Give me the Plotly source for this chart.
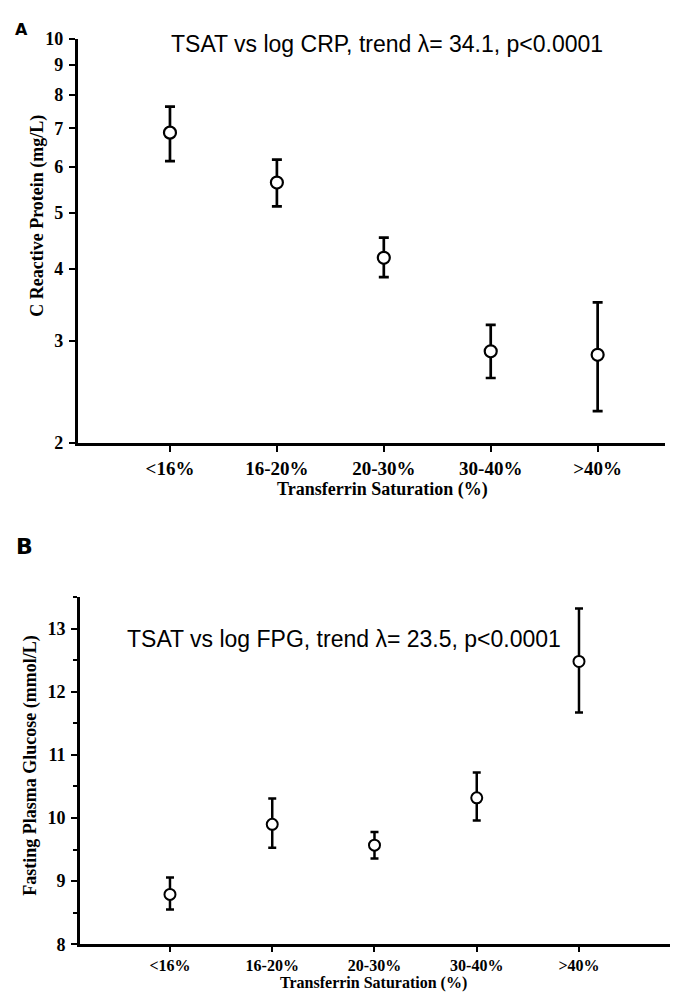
import plotly.graph_objects as go

W, H = 676, 1004

categories = ["<16%", "16-20%", "20-30%", "30-40%", ">40%"]

crp_mean = [6.88, 5.64, 4.18, 2.88, 2.84]
crp_upper = [7.63, 6.18, 4.53, 3.20, 3.50]
crp_lower = [6.14, 5.13, 3.87, 2.59, 2.27]

fpg_mean = [8.79, 9.90, 9.57, 10.32, 12.48]
fpg_upper = [9.06, 10.31, 9.78, 10.72, 13.32]
fpg_lower = [8.55, 9.53, 9.36, 9.96, 11.67]

crp_ticks = [2, 3, 4, 5, 6, 7, 8, 9, 10]
fpg_ticks = [8, 9, 10, 11, 12, 13]
fpg_minor = [8.5, 9.5, 10.5, 11.5, 12.5, 13.5]

title_a = "TSAT vs log CRP, trend \u03bb= 34.1, p<0.0001"
title_b = "TSAT vs log FPG, trend \u03bb= 23.5, p<0.0001"
ytitle_a = "C Reactive Protein (mg/L)"
ytitle_b = "Fasting Plasma Glucose (mmol/L)"
xtitle = "Transferrin Saturation (%)"


def px(x):
    return x / W


def py(y):
    return 1 - y / H


SERIF = "Liberation Serif"
SANS = "Liberation Sans"

fig = go.Figure()

fig.add_trace(go.Scatter(
    x=categories, y=crp_mean, mode="markers",
    marker=dict(symbol="circle", size=12, color="white",
                line=dict(color="black", width=2.2)),
    error_y=dict(type="data", symmetric=False,
                 array=[u - m for u, m in zip(crp_upper, crp_mean)],
                 arrayminus=[m - l for m, l in zip(crp_mean, crp_lower)],
                 color="black", thickness=2.7, width=5),
    xaxis="x", yaxis="y", showlegend=False,
))

fig.add_trace(go.Scatter(
    x=categories, y=fpg_mean, mode="markers",
    marker=dict(symbol="circle", size=11, color="white",
                line=dict(color="black", width=2)),
    error_y=dict(type="data", symmetric=False,
                 array=[u - m for u, m in zip(fpg_upper, fpg_mean)],
                 arrayminus=[m - l for m, l in zip(fpg_mean, fpg_lower)],
                 color="black", thickness=2.5, width=4),
    xaxis="x2", yaxis="y2", showlegend=False,
))

axis_common = dict(showline=True, linecolor="black", linewidth=2.7,
                   ticks="outside", tickcolor="black", tickwidth=2,
                   showgrid=False, zeroline=False, mirror=False)

fig.update_layout(
    width=W, height=H,
    margin=dict(l=0, r=0, t=0, b=0),
    paper_bgcolor="white", plot_bgcolor="white",
    xaxis=dict(domain=[px(77.7), px(665)], anchor="y",
               type="category", categoryorder="array", categoryarray=categories,
               range=[-0.863, 4.63], ticklen=6,
               tickfont=dict(family=SERIF, size=19, color="black", weight="bold"),
               **axis_common),
    yaxis=dict(domain=[py(441.7), py(29.3)], anchor="x", type="log",
               range=[0.30103, 1.0], tickvals=crp_ticks,
               ticktext=[str(t) for t in crp_ticks], ticklen=6,
               ticklabelstandoff=2,
               tickfont=dict(family=SERIF, size=18, color="black", weight="bold"),
               **axis_common),
    xaxis2=dict(domain=[px(80), px(670)], anchor="y2",
                type="category", categoryorder="array", categoryarray=categories,
                range=[-0.88, 4.89], ticklen=5, ticklabelstandoff=0,
                tickfont=dict(family=SERIF, size=16, color="black", weight="bold"),
                **axis_common),
    yaxis2=dict(domain=[py(953.3), py(599)], anchor="x2",
                range=[8, 13.5], tickvals=fpg_ticks, ticklen=6,
                ticklabelstandoff=2,
                tickfont=dict(family=SERIF, size=18, color="black", weight="bold"),
                minor=dict(tickvals=fpg_minor,
                           ticks="outside", ticklen=4, tickwidth=2, tickcolor="black"),
                **axis_common),
)

annotations = [
    dict(text="A", x=px(21), y=py(20), font=dict(family="DejaVu Sans", size=16, color="black", weight="bold")),
    dict(text="B", x=px(24), y=py(547), font=dict(family="DejaVu Sans", size=22, color="black", weight="bold")),
    dict(text=title_a, x=px(387), y=py(35), font=dict(family=SANS, size=23, color="black")),
    dict(text=title_b, x=px(344), y=py(642), font=dict(family=SANS, size=23, color="black")),
    dict(text=ytitle_a, x=px(38), y=py(210), textangle=-90,
         font=dict(family=SERIF, size=18, color="black", weight="bold")),
    dict(text=ytitle_b, x=px(31), y=py(771), textangle=-90,
         font=dict(family=SERIF, size=18, color="black", weight="bold")),
    dict(text=xtitle, x=px(383), y=py(489),
         font=dict(family=SERIF, size=18, color="black", weight="bold")),
    dict(text=xtitle, x=px(373), y=py(993),
         font=dict(family=SERIF, size=16, color="black", weight="bold")),
]
for a in annotations:
    a.update(xref="paper", yref="paper", showarrow=False, xanchor="center", yanchor="middle")
fig.update_layout(annotations=annotations)

fig.write_html("out.html")
